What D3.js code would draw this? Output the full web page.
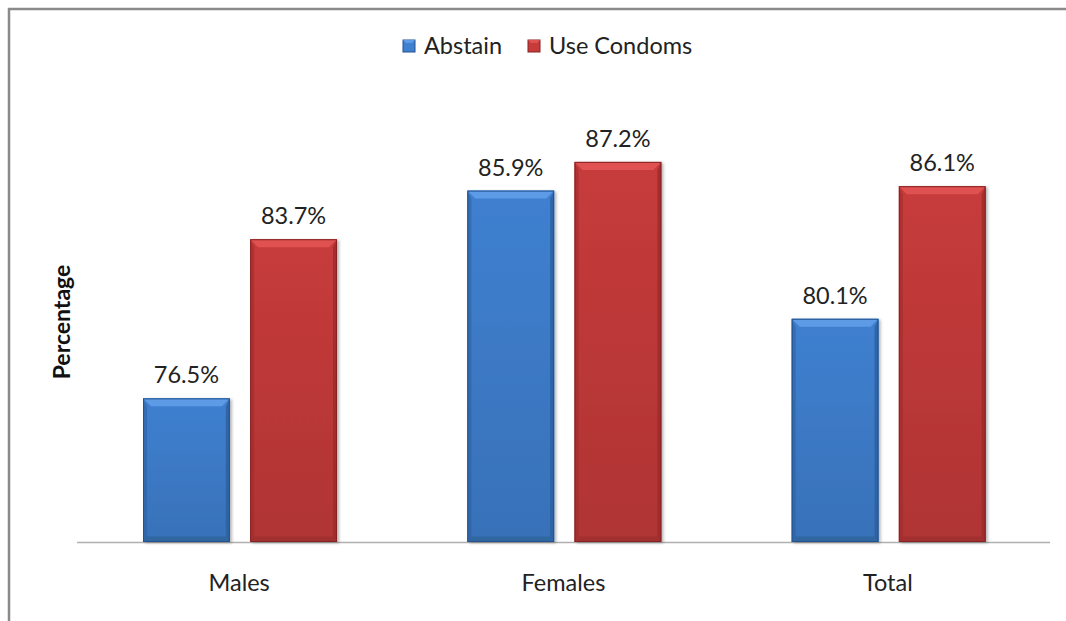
<!DOCTYPE html>
<html><head><meta charset="utf-8">
<script src="https://cdn.jsdelivr.net/npm/d3@7"></script>
<style>body{margin:0;background:#fff}svg{display:block}</style>
</head><body>
<script>
const categories = ["Males", "Females", "Total"];
const seriesNames = ["Abstain", "Use Condoms"];
const abstain = [76.5, 85.9, 80.1];
const useCondoms = [83.7, 87.2, 86.1];
const yDomain = [70, 90];

const W = 1066, H = 621;
const svg = d3.select("body").append("svg").attr("width", W).attr("height", H);
const font = "Lato, 'Open Sans', sans-serif";

// frame
svg.append("path").attr("d", `M9,${H} L9,9 L${W},9`).attr("fill","none").attr("stroke","#8a8a8a").attr("stroke-width",2.5);

const x0 = d3.scaleBand().domain(categories).range([77, 1050]).paddingInner(0).paddingOuter(0);
const x1 = d3.scaleBand().domain(seriesNames).range([66, 260]).paddingInner(0.19).paddingOuter(0);
const y = d3.scaleLinear().domain(yDomain).range([542, 100]);

const palette = {
  "Abstain": {main:"#3f80d0", light:"#5d9be6", dark:"#2c5f9f", edge:"#23528e", bottom:"#30669f"},
  "Use Condoms": {main:"#c73b3b", light:"#e05252", dark:"#9c2a2a", edge:"#872222", bottom:"#a23030"}
};

const defs = svg.append("defs");
seriesNames.forEach((s,i)=>{
  const c = palette[s];
  const g = defs.append("linearGradient").attr("id","g"+i).attr("x1",0).attr("x2",0).attr("y1",0).attr("y2",1);
  g.append("stop").attr("offset","0%").attr("stop-color",c.main);
  g.append("stop").attr("offset","100%").attr("stop-color",d3.color(c.main).darker(0.35));
});
const f = defs.append("filter").attr("id","sh").attr("x","-10%").attr("y","-10%").attr("width","130%").attr("height","120%");
f.append("feDropShadow").attr("dx",2).attr("dy",1).attr("stdDeviation",1.5).attr("flood-color","#000").attr("flood-opacity",0.3);

// baseline
svg.append("line").attr("x1",77).attr("x2",1050).attr("y1",542.5).attr("y2",542.5).attr("stroke","#b0b0b0").attr("stroke-width",1.5);

const data = [];
categories.forEach((cat,ci)=>{
  data.push({cat, s:"Abstain", si:0, v:abstain[ci]});
  data.push({cat, s:"Use Condoms", si:1, v:useCondoms[ci]});
});

const b = 8; // bevel size
const gs = svg.selectAll("g.bar").data(data).join("g").attr("class","bar");
gs.each(function(d){
  const g = d3.select(this);
  const c = palette[d.s];
  const xl = x0(d.cat) + x1(d.s), w = x1.bandwidth();
  const yt = y(d.v), yb = y(yDomain[0]);
  const xr = xl + w;
  g.append("rect").attr("x",xl).attr("y",yt).attr("width",w).attr("height",yb-yt)
    .attr("fill",`url(#g${d.si})`).attr("filter","url(#sh)");
  g.append("path").attr("d",`M${xl},${yt} L${xr},${yt} L${xr-b},${yt+b} L${xl+b},${yt+b} Z`).attr("fill",c.light);
  g.append("path").attr("d",`M${xl},${yt} L${xl+b*0.5},${yt+b} L${xl+b*0.5},${yb-b*0.5} L${xl},${yb} Z`).attr("fill",c.dark).attr("opacity",0.55);
  g.append("path").attr("d",`M${xr},${yt} L${xr-b*0.5},${yt+b} L${xr-b*0.5},${yb-b*0.5} L${xr},${yb} Z`).attr("fill",c.dark).attr("opacity",0.8);
  g.append("path").attr("d",`M${xl},${yb} L${xl+b*0.5},${yb-b*0.7} L${xr-b*0.5},${yb-b*0.7} L${xr},${yb} Z`).attr("fill",c.bottom).attr("opacity",0.9);
  g.append("rect").attr("x",xl+0.5).attr("y",yt+0.5).attr("width",w-1).attr("height",yb-yt-1)
    .attr("fill","none").attr("stroke",c.edge).attr("stroke-width",1);
  g.append("text").attr("x",xl+w/2).attr("y",yt-15).attr("text-anchor","middle")
    .attr("font-family",font).attr("font-size",23.5).attr("fill","#222").text(d.v.toFixed(1)+"%");
});

// category labels
svg.selectAll("text.cat").data(categories).join("text").attr("class","cat")
  .attr("x",d=>x0(d)+x0.bandwidth()/2).attr("y",591).attr("text-anchor","middle")
  .attr("font-family",font).attr("font-size",23.5).attr("fill","#222").text(d=>d);

// y-axis title
svg.append("text").attr("transform","translate(70,322) rotate(-90)").attr("text-anchor","middle")
  .attr("font-family",font).attr("font-weight","bold").attr("font-size",23).attr("fill","#111").text("Percentage");

// legend
const legX = [403, 528];
seriesNames.forEach((s,i)=>{
  const c = palette[s];
  const lg = svg.append("g").attr("transform",`translate(${legX[i]},40)`);
  lg.append("rect").attr("x",0).attr("y",0).attr("width",12).attr("height",12).attr("fill",c.main).attr("stroke",c.edge);
  lg.append("path").attr("d","M0,0 L12,0 L9,3 L3,3 Z").attr("fill",c.light);
  lg.append("text").attr("x",21).attr("y",14).attr("font-family",font).attr("font-size",23.5).attr("fill","#222").text(s);
});
</script>
</body></html>
